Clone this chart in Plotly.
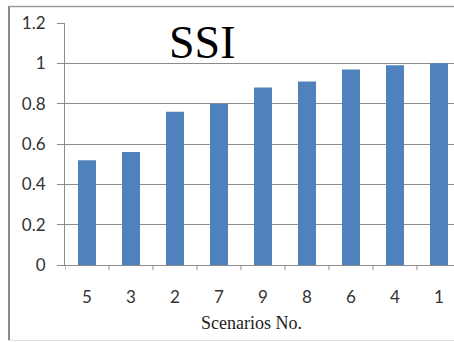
import plotly.graph_objects as go

categories = ["5", "3", "2", "7", "9", "8", "6", "4", "1"]
ssi_values = [0.52, 0.56, 0.76, 0.80, 0.88, 0.91, 0.97, 0.99, 1.00]
y_ticks = [0, 0.2, 0.4, 0.6, 0.8, 1.0, 1.2]
y_tick_labels = ["0", "0.2", "0.4", "0.6", "0.8", "1", "1.2"]

W, H = 454, 342
L, R, T, B = 65, 0, 23, 77
pw = W - L - R
ph = H - T - B

def px_x(x):
    return (x - L) / pw

def px_y(y):
    return (H - B - y) / ph

fig = go.Figure()
fig.add_trace(go.Bar(
    x=list(range(len(categories))),
    y=ssi_values,
    marker=dict(color="#4F81BD", line=dict(width=0)),
    width=0.41,
))

fig.update_layout(
    width=W, height=H,
    margin=dict(l=L, r=R, t=T, b=B, pad=0),
    paper_bgcolor="white",
    plot_bgcolor="white",
    showlegend=False,
    bargap=0.59,
    font=dict(family="Lato", size=17, color="#333333"),
    xaxis=dict(
        range=[-0.5, -0.5 + pw / 44.0],
        tickmode="array",
        tickvals=list(range(len(categories))),
        ticktext=categories,
        showgrid=False,
        showline=True,
        linecolor="#8c8c8c",
        linewidth=1,
        ticks="",
        ticklabelstandoff=17,
        zeroline=False,
        tickfont=dict(family="Lato", size=17, color="#333333"),
    ),
    yaxis=dict(
        range=[0, 1.2],
        tickmode="array",
        tickvals=y_ticks,
        ticktext=y_tick_labels,
        showgrid=True,
        gridcolor="#8c8c8c",
        gridwidth=1,
        showline=True,
        linecolor="#8c8c8c",
        linewidth=1,
        ticks="outside",
        ticklen=7,
        tickcolor="#8c8c8c",
        ticklabelstandoff=8,
        zeroline=False,
        tickfont=dict(family="Lato", size=17, color="#333333"),
    ),
)

# x tick marks at category boundaries
shapes = []
for i in range(len(categories) + 1):
    xb = i - 0.5
    shapes.append(dict(type="line", xref="x", yref="paper",
                       x0=xb, x1=xb, y0=0, y1=px_y(H - B + 5),
                       line=dict(color="#8c8c8c", width=1)))

# outer chart border
shapes.append(dict(type="line", xref="paper", yref="paper",
                   x0=px_x(9), x1=px_x(9), y0=px_y(6), y1=px_y(341),
                   line=dict(color="#8a8a8a", width=2)))
shapes.append(dict(type="line", xref="paper", yref="paper",
                   x0=px_x(8), x1=px_x(454), y0=px_y(6.5), y1=px_y(6.5),
                   line=dict(color="#9a9a9a", width=1.5)))
shapes.append(dict(type="line", xref="paper", yref="paper",
                   x0=px_x(8), x1=px_x(454), y0=px_y(340.5), y1=px_y(340.5),
                   line=dict(color="#e0e0e0", width=1)))
fig.update_layout(shapes=shapes)

serif = "Liberation Serif, DejaVu Serif, serif"
fig.add_annotation(text="SSI", xref="paper", yref="paper",
                   x=px_x(202), y=px_y(43), xanchor="center", yanchor="middle",
                   showarrow=False,
                   font=dict(family=serif, size=46, color="black"))
fig.add_annotation(text="Scenarios No.", xref="paper", yref="paper",
                   x=px_x(251), y=px_y(323), xanchor="center", yanchor="middle",
                   showarrow=False,
                   font=dict(family=serif, size=18, color="#222222"))

fig.write_html(
    "out.html",
    config={"displayModeBar": False},
    post_script="document.body.style.margin='0';document.body.style.overflow='hidden';",
)
